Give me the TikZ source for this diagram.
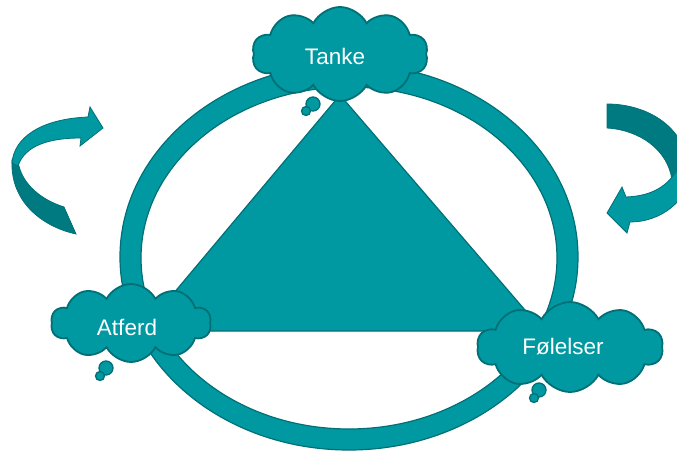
\documentclass[tikz,border=0pt]{standalone}
\usepackage{fontspec}
\setmainfont{Liberation Sans}
\usetikzlibrary{shapes.symbols}
\definecolor{teal1}{HTML}{0099A1}
\definecolor{tealdark}{HTML}{007A81}
\definecolor{tealline}{HTML}{006F76}
\tikzset{
  cloudbox/.style={cloud, cloud puffs=10, cloud puff arc=125, cloud ignores aspect,
    fill=teal1, draw=tealline, line width=1.8pt, text=white,
    font=\fontsize{22}{26}\selectfont, inner sep=0pt},
  cloudtext/.style={text=white, font=\fontsize{22.5}{26}\selectfont},
  bubble/.style={circle, fill=teal1, draw=tealline, line width=1.3pt, inner sep=0pt},
  bandlight/.style={fill=teal1, draw=tealline, line width=0.8pt},
  banddark/.style={fill=tealdark, draw=tealline, line width=0.8pt},
}
\begin{document}
\begin{tikzpicture}[x=1pt,y=-1pt]
\useasboundingbox (0,0) rectangle (677,450);
\clip (0,0) rectangle (677,450);
% ring
\fill[teal1, even odd rule] (349,257) ellipse [x radius=229pt, y radius=193pt]
  (349,258) ellipse [x radius=208pt, y radius=171pt];
\draw[tealline, line width=1.2pt] (349,257) ellipse [x radius=229pt, y radius=193pt];
\draw[tealline, line width=1.2pt] (349,258) ellipse [x radius=208pt, y radius=171pt];
% triangle
\filldraw[fill=teal1, draw=tealline, line width=1.2pt] (340,95) -- (543,331) -- (142,331) -- cycle;
% left curved arrow
\path[banddark] (12,160) .. controls (10,200) and (40,226) .. (76,234) -- (64,207)
  .. controls (42,200) and (22,185) .. (18,162) -- cycle;
\path[bandlight] (12,163) .. controls (14,138) and (40,119) .. (88,117) -- (90,107) -- (103,128)
  -- (80,146) -- (81,138) .. controls (50,138) and (25,145) .. (18,166) -- cycle;
% right curved arrow
\path[banddark] (607,104) .. controls (645,104) and (690,125) .. (690,180) -- (672,180)
  .. controls (668,150) and (640,130) .. (607,128) -- cycle;
\path[bandlight] (626,197) .. controls (650,196) and (668,188) .. (680,165) -- (692,170)
  .. controls (688,202) and (660,222) .. (630,222) -- (627,233) -- (607,213) -- (622,187) -- cycle;
% thought bubbles
\node[bubble, minimum size=14pt] (tb1) at (313,104) {};
\node[bubble, minimum size=9pt] (tb2) at (306,111) {};
\node[bubble, minimum size=14pt] (ab1) at (106,368) {};
\node[bubble, minimum size=9pt] (ab2) at (100,376) {};
\node[bubble, minimum size=14pt] (fb1) at (539,390) {};
\node[bubble, minimum size=9pt] (fb2) at (534,398) {};
% clouds
\node[cloudbox, minimum width=176pt, minimum height=94pt] (tanke) at (340,54) {};
\node[cloudtext] (tanketxt) at (335,56) {Tanke};
\node[cloudbox, minimum width=160pt, minimum height=78pt] (atferd) at (131,323) {};
\node[cloudtext] (atferdtxt) at (127,327) {Atferd};
\node[cloudbox, minimum width=186pt, minimum height=90pt] (folelser) at (570,347) {};
\node[cloudtext] (folelsertxt) at (563,347) {Følelser};
\end{tikzpicture}
\end{document}
